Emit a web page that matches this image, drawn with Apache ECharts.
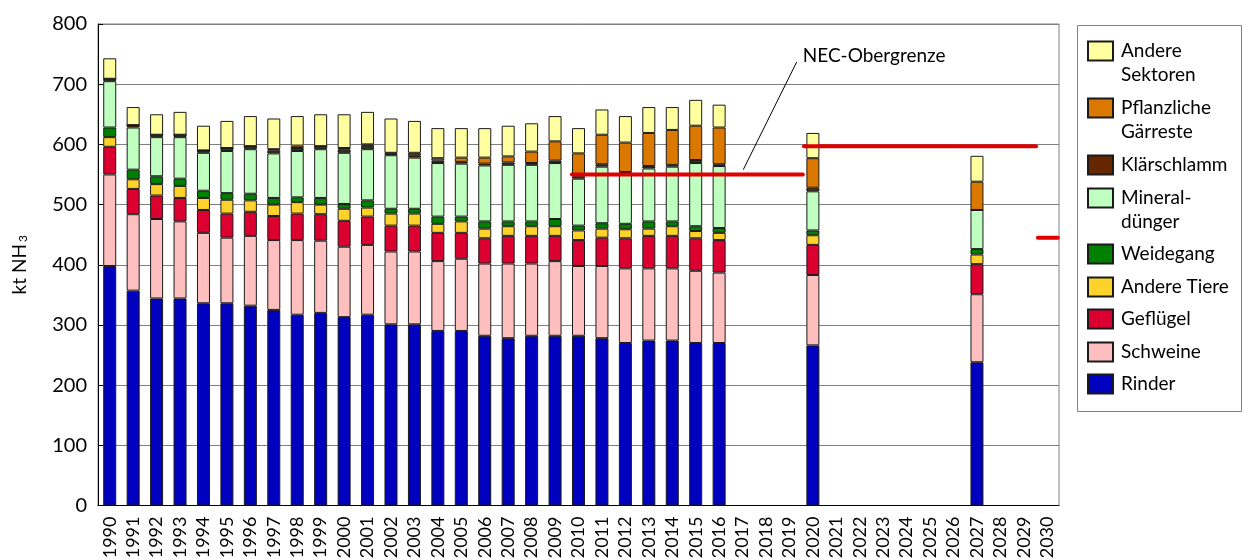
<!DOCTYPE html>
<html><head><meta charset="utf-8">
<script src="https://cdn.jsdelivr.net/npm/echarts@6/dist/echarts.min.js"></script>
<style>html,body{margin:0;padding:0;background:#fff}#c{width:1244px;height:559px}</style>
</head><body><div id="c"></div>
<script>
// ---------- DATA ----------
const categories = ['1990','1991','1992','1993','1994','1995','1996','1997','1998','1999',
  '2000','2001','2002','2003','2004','2005','2006','2007','2008','2009',
  '2010','2011','2012','2013','2014','2015','2016','2017','2018','2019',
  '2020','2021','2022','2023','2024','2025','2026','2027','2028','2029','2030'];
const dataYears = ['1990','1991','1992','1993','1994','1995','1996','1997','1998','1999',
  '2000','2001','2002','2003','2004','2005','2006','2007','2008','2009',
  '2010','2011','2012','2013','2014','2015','2016','2020','2027'];
const rinder      = [398,357,344,344,336,336,332,325,317,320,313,317,301,301,290,290,282,278,282,282,282,278,270,274,274,270,270,266,238];
const schweine    = [152,127,132,128,117,109,116,116,124,120,117,116,121,121,116,120,120,124,120,124,116,120,124,120,120,120,117,117,113];
const gefluegel   = [46,42,39,39,38,40,40,40,44,44,43,47,43,43,47,43,42,46,46,42,43,47,50,54,54,54,54,50,50];
const andereTiere = [16,16,19,20,20,23,19,19,19,16,20,15,20,20,15,19,16,16,16,16,16,15,15,12,16,12,12,16,16];
const weidegang   = [16,16,13,12,12,11,11,11,8,11,8,12,8,8,12,8,12,8,8,12,8,9,9,12,8,8,8,8,9];
const mineral     = [77,70,65,69,63,70,74,74,77,81,85,85,89,85,89,88,93,94,94,93,78,94,84,88,91,105,103,65,65];
const klaer       = [4,4,4,4,4,5,5,5,5,5,5,5,3,4,4,3,3,4,3,4,4,4,2,4,3,5,3,6,0];
const pflanz      = [0,0,0,0,0,0,0,2,4,0,3,3,1,4,4,7,10,10,19,32,38,49,49,55,58,57,61,49,47];
const andereSekt  = [34,30,34,38,41,45,50,51,49,53,56,54,57,53,50,49,49,51,47,42,42,42,44,43,38,43,38,42,43];
const seriesNames = ['Rinder','Schweine','Geflügel','Andere Tiere','Weidegang','Mineraldünger','Klärschlamm','Pflanzliche Gärreste','Andere Sektoren'];
const legendLabels = ['Andere\nSektoren','Pflanzliche\nGärreste','Klärschlamm','Mineral-\ndünger','Weidegang','Andere Tiere','Geflügel','Schweine','Rinder'];
const yTicks = [0,100,200,300,400,500,600,700,800];
// NEC-Obergrenze: [from year, to year, kt NH3]
const necLimits = [[2009.72,2019.57,550],[2019.62,2029.52,597],[2029.6,2030.45,445]];
const necNoteText = 'NEC-Obergrenze';
const necNoteLine = [[2017.03,558],[2019.31,737]];

// ---------- STYLE / LAYOUT ----------
const seriesValues = [rinder,schweine,gefluegel,andereTiere,weidegang,mineral,klaer,pflanz,andereSekt];
const seriesColors = ['#0000BF','#FFBFBF','#DB0030','#FDD22B','#008000','#BFFFBF','#662600','#DB7800','#FFFF9F'];
const legendOrder = seriesNames.slice().reverse();
const legendIconCenters = [51,108,165,198,254,287,319,352,384];
const FONT = 'Lato';
const LH = 23.5;

function fullSeries(vals){
  return categories.map(c => { const i = dataYears.indexOf(c); return i < 0 ? '-' : vals[i]; });
}

const barSeries = seriesNames.map((n,i) => ({
  name: n, type: 'bar', stack: 'total', barWidth: 13,
  xAxisIndex: 0, yAxisIndex: 0,
  data: fullSeries(seriesValues[i]),
  itemStyle: { color: seriesColors[i], borderColor: '#1a1a1a', borderWidth: 1 },
  emphasis: { disabled: true }
}));

const necSeries = necLimits.map(s => ({
  type: 'line', xAxisIndex: 1, yAxisIndex: 0, symbol: 'none', silent: true, z: 5,
  data: [[s[0], s[2]], [s[1], s[2]]],
  lineStyle: { color: '#E00000', width: 4, cap: 'round' }
}));

const noteSeries = {
  type: 'line', xAxisIndex: 1, yAxisIndex: 0, symbol: 'none', silent: true, z: 6,
  data: necNoteLine,
  lineStyle: { color: '#000', width: 1 },
  endLabel: { show: true, formatter: necNoteText, fontFamily: FONT, fontSize: 19, color: '#000', distance: 6, offset: [0,-6] }
};

const legends = legendOrder.map((name, i) => {
  const label = legendLabels[i];
  const two = label.indexOf('\n') >= 0;
  return {
    show: true, orient: 'vertical', left: 1087,
    top: legendIconCenters[i] - (two ? 1.5 * LH : LH / 2),
    padding: 0, itemWidth: 25, itemHeight: 19, icon: 'rect', selectedMode: false,
    data: [name],
    formatter: () => (two ? '\n' + label : label),
    textStyle: { fontFamily: FONT, fontSize: 19, color: '#000', lineHeight: LH, padding: [0,0,0,3] }
  };
});

const chart = echarts.init(document.getElementById('c'), null, { renderer: 'canvas' });
chart.setOption({
  animation: false,
  backgroundColor: '#fff',
  textStyle: { fontFamily: FONT },
  grid: { left: 98, right: 185, top: 24, bottom: 53.5, containLabel: false, outerBoundsMode: 'none',
    show: true, borderColor: '#808080', borderWidth: 1 },
  legend: legends,
  graphic: [{ type: 'rect', left: 1075, top: 23, z: -1,
    shape: { width: 164, height: 386 }, style: { fill: 'none', stroke: '#808080', lineWidth: 1 } }],
  xAxis: [{
    type: 'category', data: categories, gridIndex: 0,
    axisLine: { lineStyle: { color: '#000', width: 1 } },
    axisTick: { alignWithLabel: true, length: 5, lineStyle: { color: '#000' } },
    axisLabel: { rotate: 90, interval: 0, fontFamily: FONT, fontSize: 18, color: '#000', margin: 11 },
    splitLine: { show: false }
  }, {
    type: 'value', min: 1989.5, max: 2030.5, show: false, gridIndex: 0
  }],
  yAxis: {
    type: 'value', min: yTicks[0], max: yTicks[yTicks.length-1], interval: 100,
    name: 'kt NH{s|3}', nameLocation: 'middle', nameRotate: 90, nameGap: 69,
    nameTextStyle: { fontFamily: FONT, fontSize: 19, color: '#000',
      rich: { s: { fontFamily: FONT, fontSize: 12, verticalAlign: 'bottom', color: '#000', padding: [0,0,0,2] } } },
    axisLine: { show: true, lineStyle: { color: '#000', width: 1 } },
    axisTick: { show: true, inside: true, length: 5, lineStyle: { color: '#000' } },
    axisLabel: { fontFamily: FONT, fontSize: 20, color: '#000', margin: 11 },
    splitLine: { show: true, lineStyle: { color: '#7f7f7f', width: 1 } }
  },
  series: barSeries.concat(necSeries, [noteSeries])
});
</script>
</body></html>
